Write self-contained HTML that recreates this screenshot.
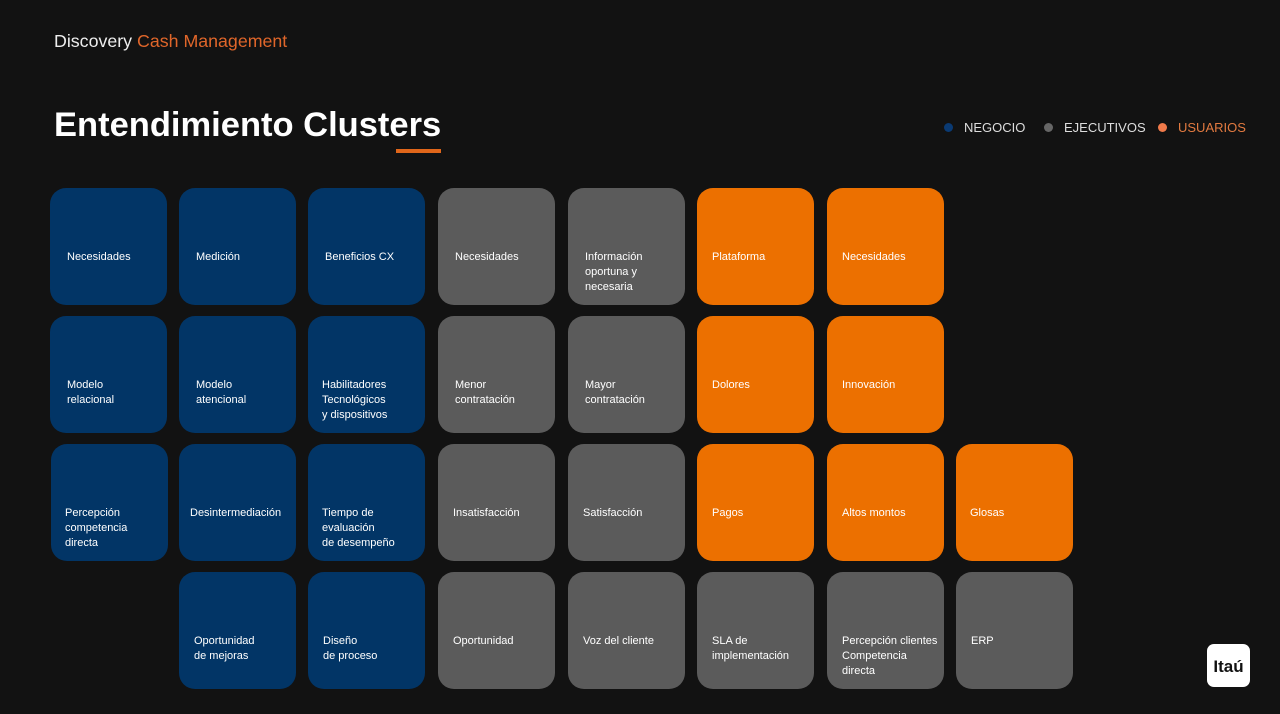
<!DOCTYPE html>
<html><head><meta charset="utf-8"><style>
body{margin:0;width:1280px;height:714px;background:#121212;position:relative;overflow:hidden;font-family:"Liberation Sans",sans-serif}
.t{position:absolute;width:117px;height:117px;border-radius:16px;box-sizing:border-box;padding-left:17px;padding-top:62px;color:#fff;font-size:11px;line-height:15px}
.b{background:#023566}.g{background:#5b5b5b}.o{background:#ec7000}
.lg{position:absolute;top:120px;font-size:13px;color:#ddd;display:flex;align-items:center}
.lg i{display:inline-block;width:9px;height:9px;border-radius:50%;margin-right:11px}
</style></head><body>
<div style="position:absolute;left:54px;top:31px;font-size:17.8px;color:#eee">Discovery <span style="color:#e0662a">Cash Management</span></div>
<div style="position:absolute;left:54px;top:106px;font-size:34.5px;font-weight:bold;color:#fff">Entendimiento Clusters</div>
<div style="position:absolute;left:396px;top:149px;width:45px;height:4px;background:#e0661a"></div>
<div class="lg" style="left:944px"><i style="background:#0a3a73"></i>NEGOCIO</div>
<div class="lg" style="left:1044px"><i style="background:#666"></i>EJECUTIVOS</div>
<div class="lg" style="left:1158px;color:#e27a40"><i style="background:#f07a4a"></i>USUARIOS</div>

<div class="t b" style="left:50px;top:188px">Necesidades</div>
<div class="t b" style="left:179px;top:188px">Medición</div>
<div class="t b" style="left:308px;top:188px">Beneficios CX</div>
<div class="t g" style="left:438px;top:188px">Necesidades</div>
<div class="t g" style="left:568px;top:188px">Información<br>oportuna y<br>necesaria</div>
<div class="t o" style="left:697px;top:188px;padding-left:15px">Plataforma</div>
<div class="t o" style="left:827px;top:188px;padding-left:15px">Necesidades</div>

<div class="t b" style="left:50px;top:316px">Modelo<br>relacional</div>
<div class="t b" style="left:179px;top:316px">Modelo<br>atencional</div>
<div class="t b" style="left:308px;top:316px;padding-left:14px">Habilitadores<br>Tecnológicos<br>y dispositivos</div>
<div class="t g" style="left:438px;top:316px">Menor<br>contratación</div>
<div class="t g" style="left:568px;top:316px">Mayor<br>contratación</div>
<div class="t o" style="left:697px;top:316px;padding-left:15px">Dolores</div>
<div class="t o" style="left:827px;top:316px;padding-left:15px">Innovación</div>

<div class="t b" style="left:51px;top:444px;padding-left:14px">Percepción<br>competencia<br>directa</div>
<div class="t b" style="left:179px;top:444px;padding-left:11px">Desintermediación</div>
<div class="t b" style="left:308px;top:444px;padding-left:14px">Tiempo de<br>evaluación<br>de desempeño</div>
<div class="t g" style="left:438px;top:444px;padding-left:15px">Insatisfacción</div>
<div class="t g" style="left:568px;top:444px;padding-left:15px">Satisfacción</div>
<div class="t o" style="left:697px;top:444px;padding-left:15px">Pagos</div>
<div class="t o" style="left:827px;top:444px;padding-left:15px">Altos montos</div>
<div class="t o" style="left:956px;top:444px;padding-left:14px">Glosas</div>

<div class="t b" style="left:179px;top:572px;padding-left:15px">Oportunidad<br>de mejoras</div>
<div class="t b" style="left:308px;top:572px;padding-left:15px">Diseño<br>de proceso</div>
<div class="t g" style="left:438px;top:572px;padding-left:15px">Oportunidad</div>
<div class="t g" style="left:568px;top:572px;padding-left:15px">Voz del cliente</div>
<div class="t g" style="left:697px;top:572px;padding-left:15px">SLA de<br>implementación</div>
<div class="t g" style="left:827px;top:572px;padding-left:15px">Percepción clientes<br>Competencia<br>directa</div>
<div class="t g" style="left:956px;top:572px;padding-left:15px">ERP</div>

<div style="position:absolute;left:1207px;top:644px;width:43px;height:43px;border-radius:7px;background:#fff;color:#111;font-weight:bold;font-size:17px;text-align:center;box-sizing:border-box;padding-top:14px;line-height:17px">Itaú</div>
</body></html>
